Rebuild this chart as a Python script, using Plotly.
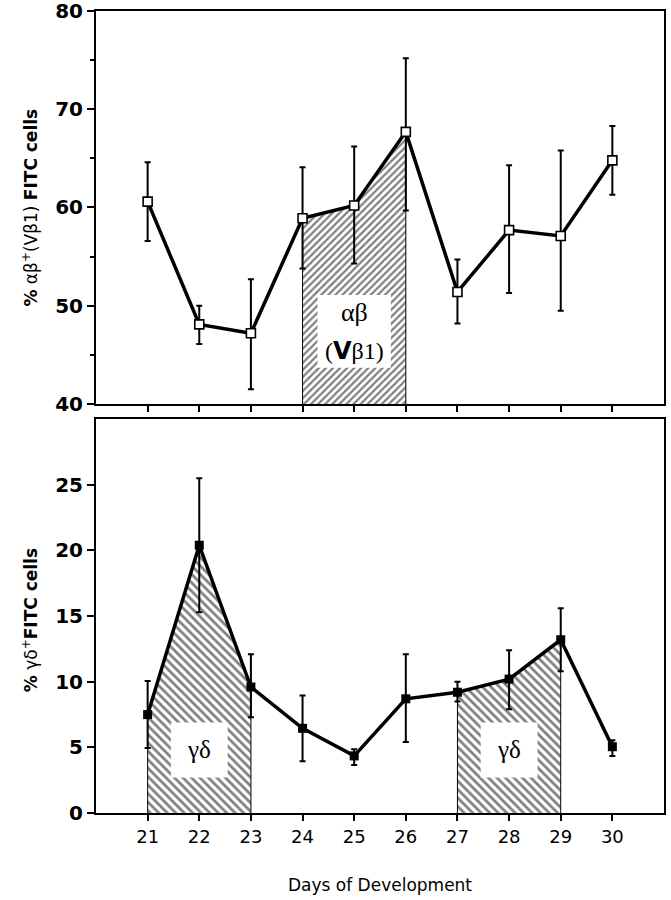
import plotly.graph_objects as go

days = [21, 22, 23, 24, 25, 26, 27, 28, 29, 30]
ab_mean = [60.6, 48.1, 47.2, 58.9, 60.2, 67.7, 51.4, 57.7, 57.1, 64.8]
ab_err_up = [4.0, 1.9, 5.5, 5.2, 6.0, 7.5, 3.3, 6.6, 8.7, 3.5]
ab_err_down = [4.0, 2.0, 5.7, 5.1, 5.9, 8.0, 3.2, 6.4, 7.6, 3.5]
gd_mean = [7.5, 20.4, 9.6, 6.45, 4.35, 8.7, 9.2, 10.2, 13.2, 5.05]
gd_err_up = [2.55, 5.1, 2.5, 2.5, 0.5, 3.4, 0.8, 2.2, 2.4, 0.5]
gd_err_down = [2.55, 5.1, 2.3, 2.5, 0.7, 3.3, 0.7, 2.3, 2.4, 0.7]

ab_spans = [(24, 26)]
gd_spans = [(21, 23), (27, 29)]
ab_label_lines = ["αβ", "(<span style='font-family:DejaVu Sans'><b>V</b></span>β1)"]
gd_label = "γδ"

top_ticks = [40, 50, 60, 70, 80]
bot_ticks = [0, 5, 10, 15, 20, 25]
top_range = [40, 80]
bot_range = [0, 30]
x_range = [20, 31]

SANS = "DejaVu Sans, Liberation Sans, Arial"
SERIF = "Liberation Serif, Times New Roman, serif"

fig = go.Figure()


def span_polygon(start, end, vals, base):
    i0 = days.index(start)
    i1 = days.index(end)
    xs = [start] + days[i0:i1 + 1] + [end]
    ys = [base] + vals[i0:i1 + 1] + [base]
    return xs, ys


for s, e in ab_spans:
    xs, ys = span_polygon(s, e, ab_mean, top_range[0])
    fig.add_trace(go.Scatter(x=xs, y=ys, xaxis="x", yaxis="y", mode="lines",
                             fill="toself", fillcolor="white",
                             fillpattern=dict(shape="/", fgcolor="black", bgcolor="white",
                                              size=5, solidity=0.45),
                             line=dict(color="black", width=1), hoverinfo="skip",
                             showlegend=False))

for s, e in gd_spans:
    xs, ys = span_polygon(s, e, gd_mean, bot_range[0])
    fig.add_trace(go.Scatter(x=xs, y=ys, xaxis="x2", yaxis="y2", mode="lines",
                             fill="toself", fillcolor="white",
                             fillpattern=dict(shape="\\", fgcolor="black", bgcolor="white",
                                              size=6, solidity=0.45),
                             line=dict(color="black", width=1), hoverinfo="skip",
                             showlegend=False))

fig.add_trace(go.Scatter(
    x=days, y=ab_mean, xaxis="x", yaxis="y", mode="lines+markers",
    line=dict(color="black", width=3.5),
    marker=dict(symbol="square", size=9, color="white", line=dict(color="black", width=1.6)),
    error_y=dict(type="data", array=ab_err_up, arrayminus=ab_err_down, symmetric=False,
                 color="black", thickness=2, width=3),
    showlegend=False))

fig.add_trace(go.Scatter(
    x=days, y=gd_mean, xaxis="x2", yaxis="y2", mode="lines+markers",
    line=dict(color="black", width=3.5),
    marker=dict(symbol="square", size=9, color="black"),
    error_y=dict(type="data", array=gd_err_up, arrayminus=gd_err_down, symmetric=False,
                 color="black", thickness=2, width=3),
    showlegend=False))

shapes = [
    dict(type="rect", xref="x", yref="y", x0=24.29, x1=25.71, y0=43.7, y1=51.1,
         fillcolor="white", line=dict(width=0), layer="above"),
    dict(type="rect", xref="x2", yref="y2", x0=21.45, x1=22.55, y0=2.7, y1=6.9,
         fillcolor="white", line=dict(width=0), layer="above"),
    dict(type="rect", xref="x2", yref="y2", x0=27.45, x1=28.55, y0=2.7, y1=6.9,
         fillcolor="white", line=dict(width=0), layer="above"),
]

annotations = [
    dict(x=25, y=49.3, xref="x", yref="y", text=ab_label_lines[0], showarrow=False,
         font=dict(family=SERIF, size=26, color="black")),
    dict(x=25, y=45.4, xref="x", yref="y", text=ab_label_lines[1], showarrow=False,
         font=dict(family=SERIF, size=24, color="black")),
    dict(x=22, y=4.8, xref="x2", yref="y2", text=gd_label, showarrow=False,
         font=dict(family=SERIF, size=25, color="black")),
    dict(x=28, y=4.8, xref="x2", yref="y2", text=gd_label, showarrow=False,
         font=dict(family=SERIF, size=25, color="black")),
    dict(x=-0.116, y=0.5, xref="paper", yref="y domain", xanchor="center", yanchor="middle",
         text="<b>%</b> αβ<sup>+</sup>(Vβ1) <b>FITC cells</b>",
         textangle=-90, showarrow=False, font=dict(family=SANS, size=17, color="black")),
    dict(x=-0.116, y=0.49, xref="paper", yref="y2 domain", xanchor="center", yanchor="middle",
         text="<b>%</b> γδ<sup>+</sup><b>FITC cells</b>",
         textangle=-90, showarrow=False, font=dict(family=SANS, size=17, color="black")),
]

axis_common = dict(showgrid=False, zeroline=False, showline=True, linewidth=2,
                   linecolor="black", mirror=True, ticks="outside", tickwidth=2,
                   tickcolor="black", automargin=False)

fig.update_layout(
    width=671, height=900,
    margin=dict(l=96, r=7, t=11, b=87, autoexpand=False),
    paper_bgcolor="white", plot_bgcolor="white",
    font=dict(family=SANS, color="black"),
    shapes=shapes, annotations=annotations,
    xaxis=dict(domain=[0, 1], range=x_range, anchor="y", tickvals=days,
               showticklabels=False, ticklen=6, **axis_common),
    yaxis=dict(domain=[0.51, 1], range=top_range, anchor="x", tickvals=top_ticks, ticklen=7,
               tickfont=dict(family=SANS, size=20, weight="bold"),
               ticklabeloverflow="allow",
               minor=dict(ticks="outside", ticklen=4, tickvals=[45, 55, 65, 75],
                          tickwidth=2, tickcolor="black"),
               **axis_common),
    xaxis2=dict(domain=[0, 1], range=x_range, anchor="y2", tickvals=days, ticklen=6,
                tickfont=dict(family=SANS, size=18),
                title=dict(text="Days of Development", font=dict(family=SANS, size=17),
                           standoff=34),
                **axis_common),
    yaxis2=dict(domain=[0, 0.491], range=bot_range, anchor="x2",
                tickvals=bot_ticks, ticklen=7, ticklabeloverflow="allow",
                tickfont=dict(family=SANS, size=20, weight="bold"), **axis_common),
)

fig.write_html("out.html", config={"displayModeBar": False},
               post_script="document.body.style.margin='0px';")
